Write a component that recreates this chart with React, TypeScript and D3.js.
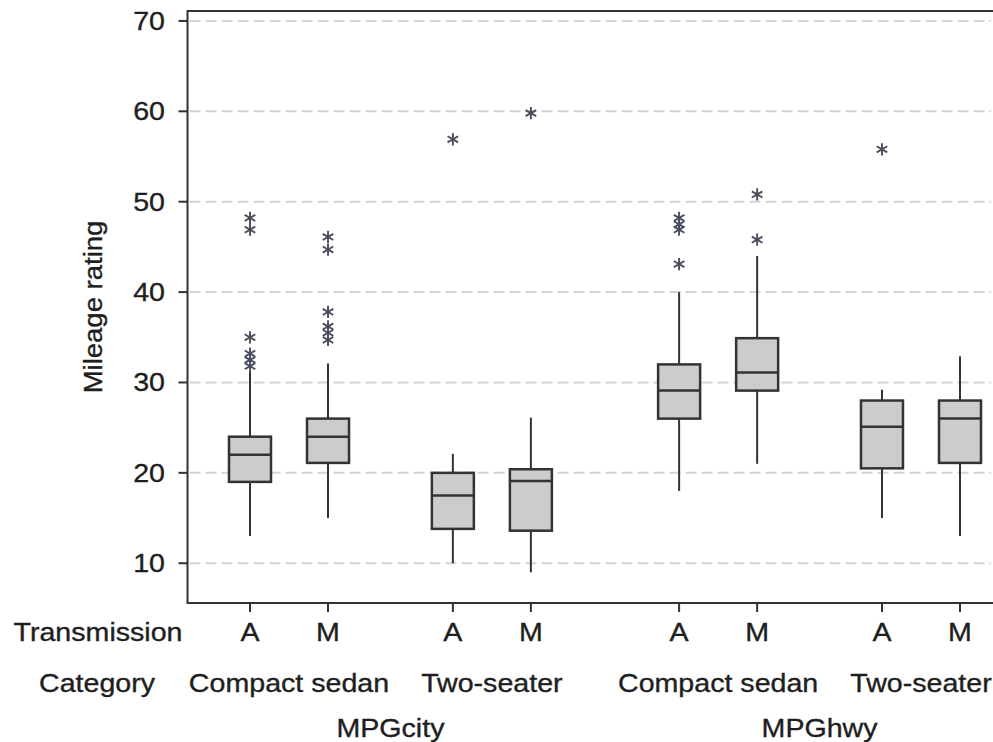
import React, { useEffect, useRef } from "react";
import * as d3 from "d3";

// box stats, one entry per box (left to right)
const variables = ["MPGcity", "MPGhwy"];
const categories = ["Compact sedan", "Two-seater"];
const transmissions = ["A", "M"];

const whiskerLow = [13, 15, 10, 9, 18, 21, 15, 13];
const q1 = [19, 21.1, 13.8, 13.6, 26, 29.1, 20.5, 21.1];
const median = [22, 24, 17.5, 19.1, 29.1, 31.1, 25.1, 26];
const q3 = [24, 26, 20, 20.4, 32, 34.9, 28, 28];
const whiskerHigh = [31.2, 32.1, 22.1, 26.1, 40, 44, 29.2, 32.9];
const outliers = [
  [48.2, 46.9, 35, 33.2, 32.5, 31.8],
  [46.1, 44.7, 37.8, 36.2, 35.5, 34.7],
  [56.9],
  [59.8],
  [48.2, 47.5, 46.9, 43.1],
  [50.8, 45.8],
  [55.8],
  [],
];
const yTicks = [10, 20, 30, 40, 50, 60, 70];

const W = 993;
const H = 742;
const left = 187.5;
const top = 11;
const bottom = 603;
const FONT = "'Liberation Sans', Arial, sans-serif";

export default function App() {
  const ref = useRef<SVGSVGElement>(null);

  useEffect(() => {
    const svg = d3.select(ref.current);
    svg.selectAll("*").remove();

    // slot positions: extra gap between categories and bigger gap between variables
    const boxes: { v: number; c: number; t: number; slot: number }[] = [];
    let slot = 0;
    variables.forEach((_, vi) => {
      categories.forEach((_, ci) => {
        transmissions.forEach((_, ti) => {
          boxes.push({ v: vi, c: ci, t: ti, slot });
          slot += 1;
        });
        slot += ci === 0 ? 0.6 : 0;
      });
      slot += 0.9;
    });
    const lastSlot = boxes[boxes.length - 1].slot;

    const x = d3.scaleLinear().domain([0, lastSlot]).range([250, 960]);
    const y = d3.scaleLinear().domain([5.6, 71.1]).range([bottom, top]);
    const boxW = 42;

    const g = svg.append("g");

    // grid lines
    g.selectAll(".grid")
      .data(yTicks)
      .join("line")
      .attr("x1", left + 2)
      .attr("x2", 991)
      .attr("y1", d => y(d))
      .attr("y2", d => y(d))
      .attr("stroke", "#d4d4d4")
      .attr("stroke-width", 2)
      .attr("stroke-dasharray", "11,5");

    // frame: left, top, bottom
    g.append("path")
      .attr("d", `M${W},${top}H${left}V${bottom}H${W}`)
      .attr("fill", "none")
      .attr("stroke", "#333")
      .attr("stroke-width", 2);

    // y ticks and labels
    g.selectAll(".ytick")
      .data(yTicks)
      .join("line")
      .attr("x1", left - 9)
      .attr("x2", left)
      .attr("y1", d => y(d))
      .attr("y2", d => y(d))
      .attr("stroke", "#333")
      .attr("stroke-width", 2);

    g.selectAll(".ylab")
      .data(yTicks)
      .join("text")
      .attr("transform", d => `translate(165,${y(d) + 9}) scale(1.1,1)`)
      .attr("text-anchor", "end")
      .attr("font-family", FONT)
      .attr("font-size", 26)
      .attr("fill", "#1e1e1e")
      .attr("stroke", "#1e1e1e")
      .attr("stroke-width", 0.35)
      .text(d => d);

    g.append("text")
      .attr("transform", `translate(102,307) rotate(-90) scale(1.1,1)`)
      .attr("text-anchor", "middle")
      .attr("font-family", FONT)
      .attr("font-size", 25)
      .attr("fill", "#1e1e1e")
      .attr("stroke", "#1e1e1e")
      .attr("stroke-width", 0.35)
      .text("Mileage rating");

    // whiskers
    g.selectAll(".whisker")
      .data(boxes)
      .join("line")
      .attr("x1", d => x(d.slot))
      .attr("x2", d => x(d.slot))
      .attr("y1", (_, i) => y(whiskerLow[i]))
      .attr("y2", (_, i) => y(whiskerHigh[i]))
      .attr("stroke", "#333")
      .attr("stroke-width", 2);

    // boxes
    g.selectAll(".box")
      .data(boxes)
      .join("rect")
      .attr("x", d => x(d.slot) - boxW / 2)
      .attr("y", (_, i) => y(q3[i]))
      .attr("width", boxW)
      .attr("height", (_, i) => y(q1[i]) - y(q3[i]))
      .attr("fill", "#cbcccd")
      .attr("stroke", "#333")
      .attr("stroke-width", 2.5);

    g.selectAll(".median")
      .data(boxes)
      .join("line")
      .attr("x1", d => x(d.slot) - boxW / 2)
      .attr("x2", d => x(d.slot) + boxW / 2)
      .attr("y1", (_, i) => y(median[i]))
      .attr("y2", (_, i) => y(median[i]))
      .attr("stroke", "#333")
      .attr("stroke-width", 2.5);

    // outlier asterisks
    const star = d3.symbol(d3.symbolAsterisk, 105)();
    boxes.forEach((b, i) => {
      g.selectAll(`.out-${i}`)
        .data(outliers[i])
        .join("path")
        .attr("d", star)
        .attr("transform", d => `translate(${x(b.slot)},${y(d)})`)
        .attr("fill", "none")
        .attr("stroke", "#4a4d5c")
        .attr("stroke-width", 1.9);
    });

    // x ticks
    g.selectAll(".xtick")
      .data(boxes)
      .join("line")
      .attr("x1", d => x(d.slot))
      .attr("x2", d => x(d.slot))
      .attr("y1", bottom)
      .attr("y2", bottom + 9)
      .attr("stroke", "#333")
      .attr("stroke-width", 2);

    const label = (txt: string, cx: number, by: number, anchor = "middle") =>
      g.append("text")
        .attr("transform", `translate(${cx},${by}) scale(1.1,1)`)
        .attr("text-anchor", anchor)
        .attr("font-family", FONT)
        .attr("font-size", 26)
        .attr("fill", "#1e1e1e")
        .attr("stroke", "#1e1e1e")
        .attr("stroke-width", 0.35)
        .text(txt);

    boxes.forEach(b => label(transmissions[b.t], x(b.slot), 641));

    variables.forEach((v, vi) => {
      const vb = boxes.filter(b => b.v === vi);
      categories.forEach((c, ci) => {
        const cb = vb.filter(b => b.c === ci);
        label(c, (x(cb[0].slot) + x(cb[cb.length - 1].slot)) / 2, 692);
      });
      label(v, (x(vb[0].slot) + x(vb[vb.length - 1].slot)) / 2, 737);
    });

    label("Transmission", 98, 641);
    label("Category", 97, 692);
  }, []);

  return (
    <svg ref={ref} width={W} height={H} style={{ display: "block", position: "absolute", left: 0, top: 0, background: "#fff" }} />
  );
}
